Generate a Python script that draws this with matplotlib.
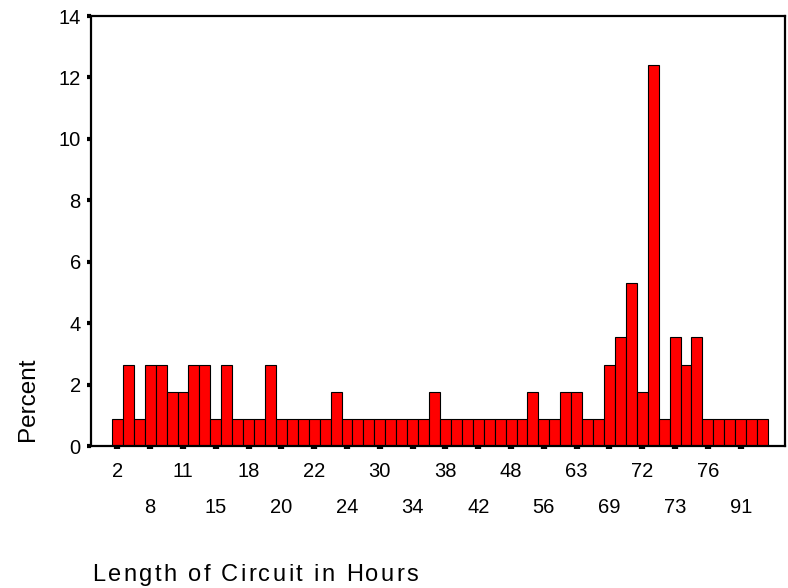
import numpy as np
import matplotlib.pyplot as plt
from matplotlib import font_manager
from matplotlib.ft2font import FT2Font

# percent of cases per circuit length (one bar per distinct value)
pct = [0.88, 2.65, 0.88, 2.65, 2.65, 1.77, 1.77, 2.65, 2.65, 0.88,
       2.65, 0.88, 0.88, 0.88, 2.65, 0.88, 0.88, 0.88, 0.88, 0.88,
       1.77, 0.88, 0.88, 0.88, 0.88, 0.88, 0.88, 0.88, 0.88, 1.77,
       0.88, 0.88, 0.88, 0.88, 0.88, 0.88, 0.88, 0.88, 1.77, 0.88,
       0.88, 1.77, 1.77, 0.88, 0.88, 2.65, 3.54, 5.31, 1.77, 12.39,
       0.88, 3.54, 2.65, 3.54, 0.88, 0.88, 0.88, 0.88, 0.88, 0.88]

# only every third category is labelled, alternating on two rows
tick_labels = ['2', '8', '11', '15', '18', '20', '22', '24', '30', '34',
               '38', '42', '48', '56', '63', '69', '72', '73', '76', '91']
yticks = [0, 2, 4, 6, 8, 10, 12, 14]

W, H = 788, 588
fig = plt.figure(figsize=(W / 100, H / 100), dpi=100)
ax = fig.add_axes([91 / W, (H - 446) / H, (785 - 91) / W, (446 - 16) / H])

font = 'Liberation Sans'
x = np.arange(len(pct))
ax.bar(x, pct, width=1.0, color='#ff0000', edgecolor='black', linewidth=0.8)

ax.set_xlim(-2.41, 61.05)
ax.set_ylim(0, 14)

tick_pos = np.arange(0, len(pct), 3)
ax.set_xticks(tick_pos[::2])
ax.set_xticklabels(tick_labels[::2], fontsize=14.5, family=font)
ax.set_xticks(tick_pos[1::2], minor=True)
ax.set_xticklabels(tick_labels[1::2], minor=True, fontsize=14.5, family=font)
ax.tick_params(axis='x', which='both', direction='out', length=2.3, width=4.5,
               color='black')
ax.tick_params(axis='x', which='major', pad=9)
ax.tick_params(axis='x', which='minor', pad=35)

ax.set_yticks(yticks)
ax.set_yticklabels([str(v) for v in yticks], fontsize=14.5, family=font)
ax.tick_params(axis='y', direction='out', length=3, width=3, pad=4.3)

for s in ax.spines.values():
    s.set_linewidth(1.6)
    s.set_color('black')

fig.text(27.5 / W, 1 - 399 / H, 'Percent', rotation=90, ha='center',
         va='center', fontsize=17.5, family=font)

# x label drawn with letter spacing
label = 'Length of Circuit in Hours'
fp = font_manager.FontProperties(family=font, size=17)
ft = FT2Font(font_manager.findfont(fp))
ft.set_size(17, fig.dpi)
px = 92.0
for ch in label:
    fig.text(px / W, 7 / H, ch, fontproperties=fp, ha='left', va='baseline')
    g = ft.load_char(ord(ch))
    px += g.linearHoriAdvance / 65536 + 2.4

fig.savefig('out.png', dpi=100)
